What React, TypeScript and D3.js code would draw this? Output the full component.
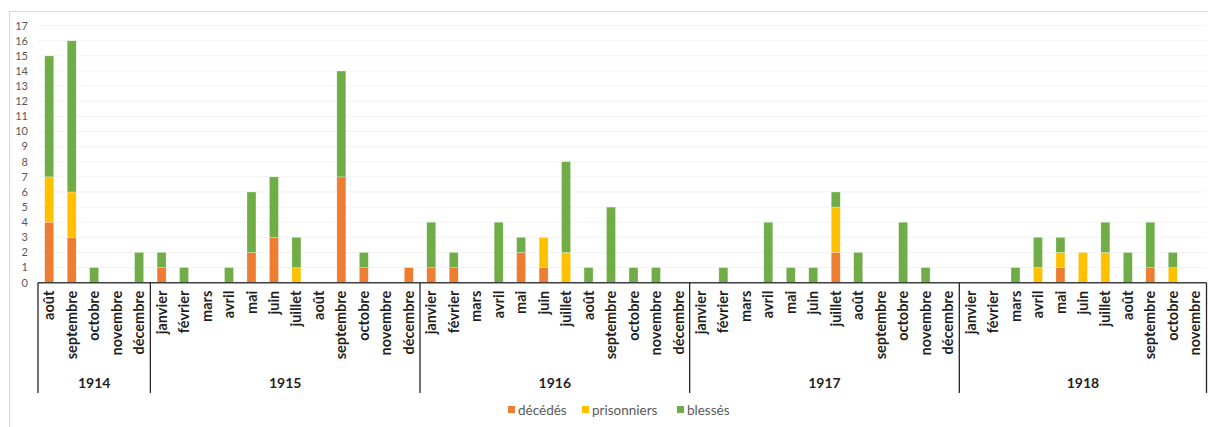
import React from "react";
import * as d3 from "d3";

const years = ["1914", "1915", "1916", "1917", "1918"];
const yearMonths = [
  ["août", "septembre", "octobre", "novembre", "décembre"],
  ["janvier", "février", "mars", "avril", "mai", "juin", "juillet", "août", "septembre", "octobre", "novembre", "décembre"],
  ["janvier", "février", "mars", "avril", "mai", "juin", "juillet", "août", "septembre", "octobre", "novembre", "décembre"],
  ["janvier", "février", "mars", "avril", "mai", "juin", "juillet", "août", "septembre", "octobre", "novembre", "décembre"],
  ["janvier", "février", "mars", "avril", "mai", "juin", "juillet", "août", "septembre", "octobre", "novembre"],
];

// values per month, in order Aug 1914 .. Nov 1918
const decedes = [
  4, 3, 0, 0, 0,
  1, 0, 0, 0, 2, 3, 0, 0, 7, 1, 0, 1,
  1, 1, 0, 0, 2, 1, 0, 0, 0, 0, 0, 0,
  0, 0, 0, 0, 0, 0, 2, 0, 0, 0, 0, 0,
  0, 0, 0, 0, 1, 0, 0, 0, 1, 0, 0,
];
const prisonniers = [
  3, 3, 0, 0, 0,
  0, 0, 0, 0, 0, 0, 1, 0, 0, 0, 0, 0,
  0, 0, 0, 0, 0, 2, 2, 0, 0, 0, 0, 0,
  0, 0, 0, 0, 0, 0, 3, 0, 0, 0, 0, 0,
  0, 0, 0, 1, 1, 2, 2, 0, 0, 1, 0,
];
const blesses = [
  8, 10, 1, 0, 2,
  1, 1, 0, 1, 4, 4, 2, 0, 7, 1, 0, 0,
  3, 1, 0, 4, 1, 0, 6, 1, 5, 1, 1, 0,
  0, 1, 0, 4, 1, 1, 1, 2, 0, 4, 1, 0,
  0, 0, 1, 2, 1, 0, 2, 2, 3, 1, 0,
];
const seriesNames = ["décédés", "prisonniers", "blessés"];
const seriesColors = ["#ED7D31", "#FFC000", "#70AD47"];
const yTicks = d3.range(0, 18);

export default function App() {
  const W = 1208, H = 427;
  const left = 38, right = 1206.5, y0 = 282.7, yTop = 25.7;
  const font = "Lato, Calibri, 'Noto Sans', sans-serif";

  const cats: { key: string; month: string; yi: number }[] = [];
  yearMonths.forEach((ms, yi) => ms.forEach((m, mi) => cats.push({ key: `${yi}-${mi}`, month: m, yi })));

  const x = d3.scaleBand<string>().domain(cats.map((c) => c.key)).range([left, right]).paddingInner(0.6).paddingOuter(0.3);
  const y = d3.scaleLinear().domain([0, 17]).range([y0, yTop]);

  const table = cats.map((c, i) => ({ key: c.key, d: decedes[i], p: prisonniers[i], b: blesses[i] }));
  const stack = d3.stack<any>().keys(["d", "p", "b"])(table);

  const step = x.step();
  const groupEdges: number[] = [left];
  let acc = 0;
  yearMonths.forEach((ms) => {
    acc += ms.length;
    groupEdges.push(left + acc * step);
  });

  const legendItems = [
    { x: 508, tx: 518 },
    { x: 582, tx: 592 },
    { x: 677, tx: 687 },
  ];

  return (
    <div style={{ position: "fixed", left: 0, top: 0 }}>
      <svg width={W} height={H} style={{ display: "block", background: "#fff" }}>
        <rect x={9.5} y={11.5} width={W} height={H} fill="#fff" stroke="#d9d9d9" strokeWidth={1} />
        {/* gridlines */}
        {yTicks.map((t) => (
          <line key={"g" + t} x1={left} x2={right} y1={y(t)} y2={y(t)} stroke="#f2f2f2" strokeWidth={1} />
        ))}
        {/* y tick labels */}
        {yTicks.map((t) => (
          <text key={"t" + t} x={28} y={y(t)} dy="0.35em" textAnchor="end" fontFamily={font} fontSize={11} fill="#595959">
            {t}
          </text>
        ))}
        {/* bars */}
        {stack.map((s, si) => (
          <g key={si} fill={seriesColors[si]}>
            {s.map((d: any, i: number) =>
              d[1] - d[0] > 0 ? (
                <rect key={i} x={x(cats[i].key)} width={x.bandwidth()} y={y(d[1])} height={y(d[0]) - y(d[1])} stroke="#fff" strokeOpacity={0.5} strokeWidth={0.5} />
              ) : null
            )}
          </g>
        ))}
        {/* axis line */}
        <line x1={left} x2={right} y1={y0} y2={y0} stroke="#404040" strokeWidth={1.5} />
        {groupEdges.map((gx, i) => (
          <line key={"sep" + i} x1={gx} x2={gx} y1={y0} y2={393} stroke="#262626" strokeWidth={1.3} />
        ))}
        {/* month labels */}
        {cats.map((c) => {
          const cx = (x(c.key) as number) + x.bandwidth() / 2;
          return (
            <text key={"m" + c.key} transform={`translate(${cx},${y0 + 8}) rotate(-90)`} dy="0.35em" textAnchor="end" fontFamily={font} fontWeight={700} fontSize={14.5} fill="#1f1f1f">
              {c.month}
            </text>
          );
        })}
        {/* year labels */}
        {years.map((yr, i) => (
          <text key={yr} x={(groupEdges[i] + groupEdges[i + 1]) / 2} y={388} textAnchor="middle" fontFamily={font} fontWeight={700} fontSize={14} fill="#1f1f1f">
            {yr}
          </text>
        ))}
        {/* legend */}
        {seriesNames.map((n, i) => (
          <g key={n}>
            <rect x={legendItems[i].x} y={406} width={7} height={7} fill={seriesColors[i]} />
            <text x={legendItems[i].tx} y={410} dy="0.35em" fontFamily={font} fontSize={13.5} fill="#595959">
              {n}
            </text>
          </g>
        ))}
      </svg>
    </div>
  );
}
